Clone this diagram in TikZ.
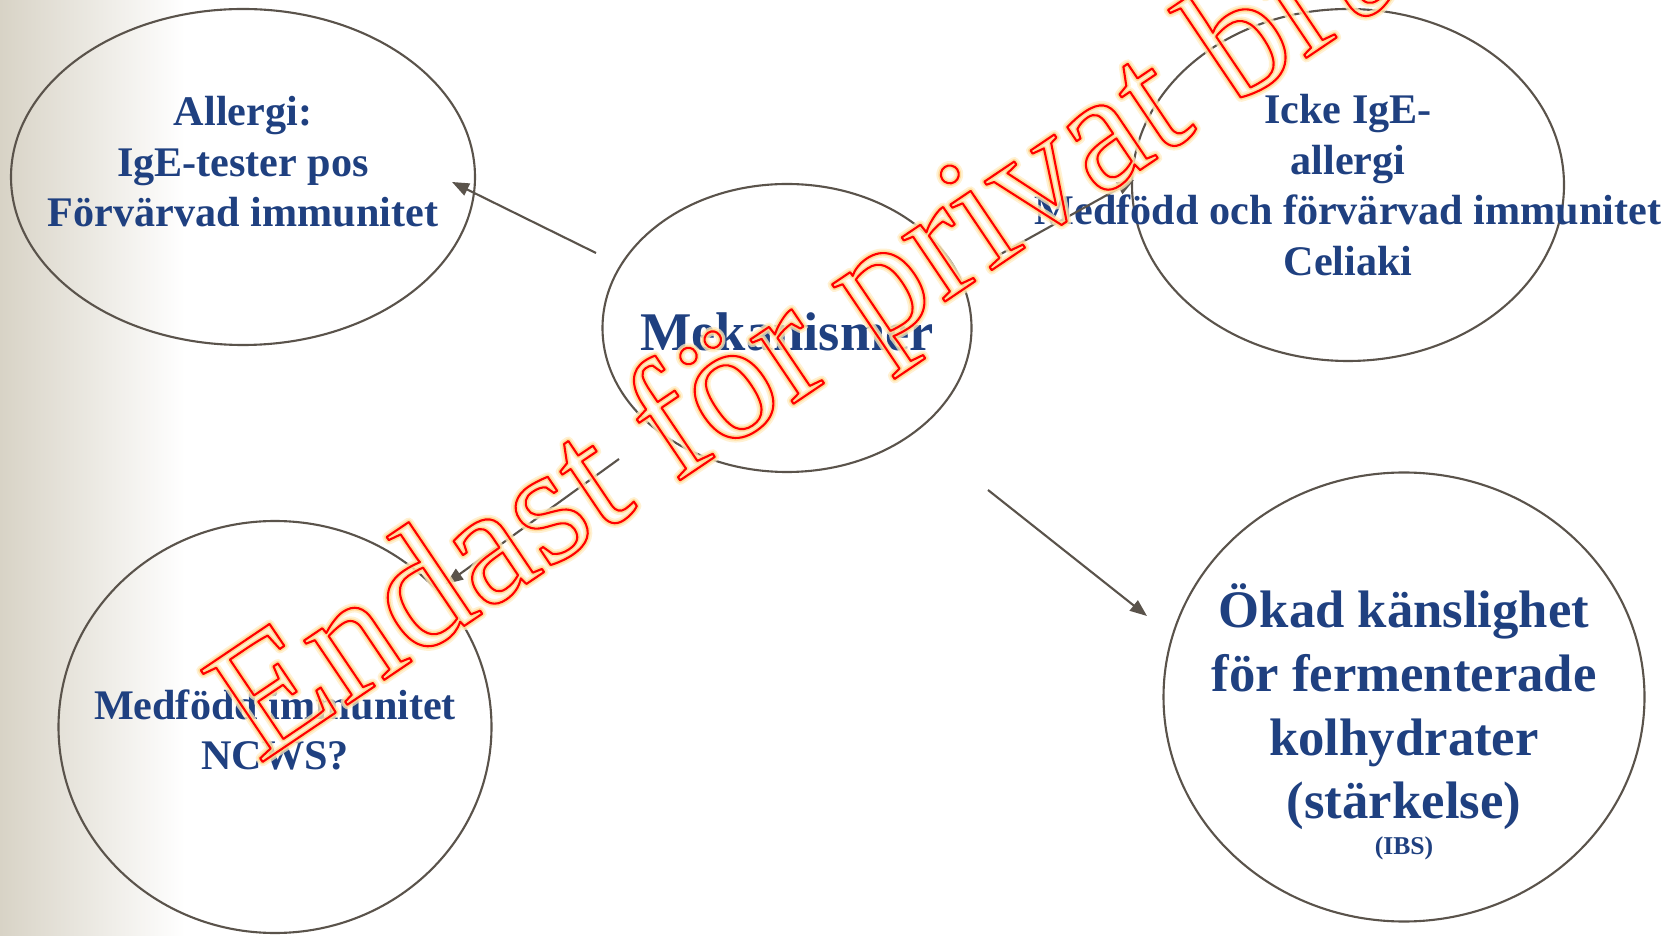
\documentclass[tikz,border=0pt]{standalone}
\usepackage{fontspec}
\setmainfont{Liberation Serif}
\usetikzlibrary{shapes.geometric, arrows.meta}
\definecolor{bgbeige}{RGB}{216,211,198}
\definecolor{rimgray}{RGB}{90,83,75}
\definecolor{txtblue}{RGB}{31,64,128}
\definecolor{glowpale}{RGB}{255,236,196}
\definecolor{glowyellow}{RGB}{255,214,140}
% stroked (hollow) letters
\newcommand{\hollow}[2]{\special{pdf:literal direct #1 w 1 j 1 Tr}#2\special{pdf:literal direct 0 Tr}}

\begin{document}
\begin{tikzpicture}[bubble/.style={ellipse, draw=rimgray, line width=0.6pt, inner sep=0pt}, txt/.style={text=txtblue, align=center, inner sep=0pt, font=\bfseries\fontsize{12}{14.4}\selectfont}, big/.style={font=\bfseries\fontsize{15}{18.1}\selectfont}, wmark/.style={rotate=34, anchor=base west, inner sep=0pt, font=\fontsize{48}{48}\selectfont}, every edge/.style={draw=rimgray, line width=0.6pt, -{Triangle[length=0.17cm, width=0.13cm]}}]
			\useasboundingbox (0,0) rectangle (16.8,9.35);
			\clip (0,0) rectangle (16.8,9.35);
			\shade[left color=bgbeige, right color=white] (0,0) rectangle (1.85,9.35);
			
			\node[bubble, minimum width=4.64cm, minimum height=3.36cm] (allergi) at (2.43,7.58){};
			\node[bubble, minimum width=3.69cm, minimum height=2.88cm] (mek) at (7.87,6.07){};
			\node[bubble, minimum width=4.32cm, minimum height=3.52cm] (icke) at (13.48,7.50){};
			\node[bubble, minimum width=4.33cm, minimum height=4.12cm] (ncws) at (2.75,2.08){};
			\node[bubble, minimum width=4.81cm, minimum height=4.49cm] (okad) at (14.04,2.38){};
			
			\node[txt] (t1) at (2.43,7.73){Allergi:\\IgE-tester pos\\Förvärvad immunitet};
			\node[txt, big, font=\bfseries\fontsize{15.5}{18}\selectfont] (t2) at (7.87,6.03){Mekanismer};
			\node[txt] (t3) at (13.48,7.50){Icke IgE-\\allergi\\Medfödd och förvärvad immunitet\\Celiaki};
			\node[txt] (t4) at (2.75,2.05){Medfödd immunitet\\NCWS?};
			\node[txt, big] (t5) at (14.04,2.13){Ökad känslighet\\för fermenterade\\kolhydrater\\(stärkelse)\\[-7.9pt]{\fontsize{7.3}{8.5}\selectfont (IBS)}};
			
			\coordinate (s1) at (5.96,6.82);
			\coordinate (e1) at (4.52,7.53);
			\coordinate (s2) at (9.99,6.80);
			\coordinate (e2) at (11.34,7.55);
			\coordinate (s3) at (6.19,4.76);
			\coordinate (e3) at (4.46,3.51);
			\coordinate (s4) at (9.88,4.45);
			\coordinate (e4) at (11.47,3.19);
			
			\path (s1) edge (e1);
			\path (s2) edge (e2);
			\path (s3) edge (e3);
			\path (s4) edge (e4);
			
			\node[wmark, text=glowpale, opacity=0.75] (wm1) at (2.58,1.70){\hollow{2.6}{Endast för privat bruk}};
			\node[wmark, text=glowyellow, opacity=0.8] (wm2) at (2.58,1.70){\hollow{1.5}{Endast för privat bruk}};
			\node[wmark, text=red] (wm3) at (2.58,1.70){\hollow{0.6}{Endast för privat bruk}};
			\end{tikzpicture}
\end{document}
